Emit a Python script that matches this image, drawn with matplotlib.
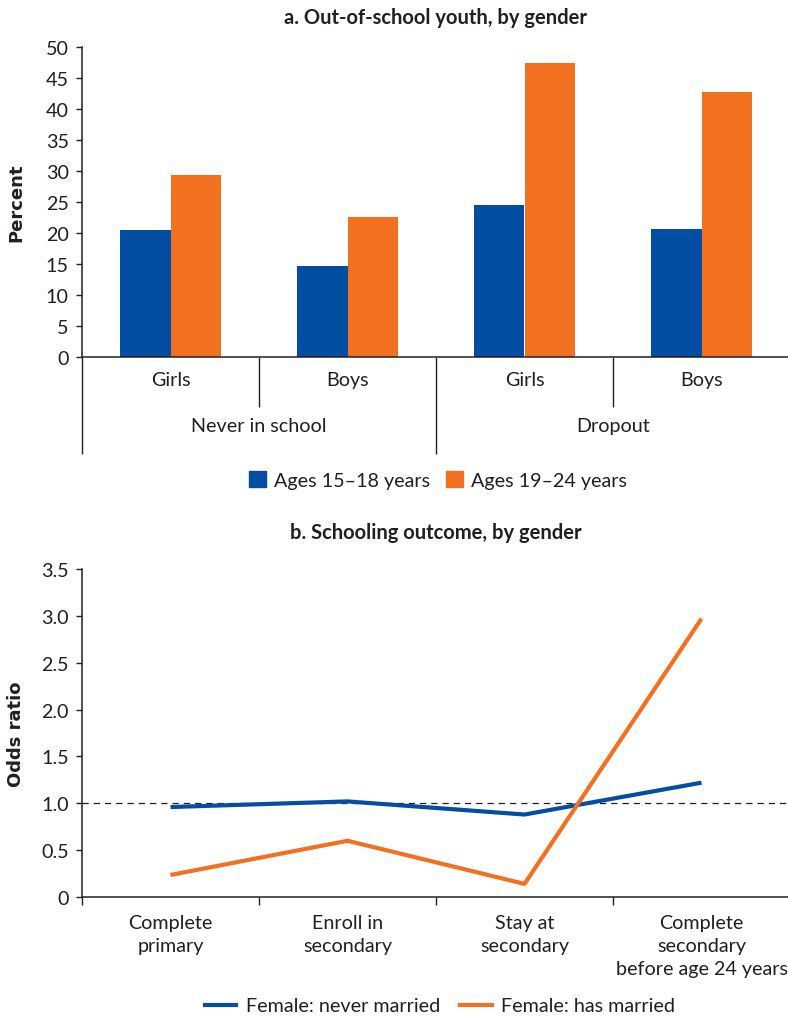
import matplotlib
matplotlib.use("Agg")
import matplotlib.pyplot as plt
from matplotlib.patches import Patch
from matplotlib.lines import Line2D

plt.rcParams["font.family"] = ["Lato", "DejaVu Sans"]

# ---- data -------------------------------------------------------------
genders = ["Girls", "Boys", "Girls", "Boys"]
groups = ["Never in school", "Dropout"]
ages_15_18 = [20.5, 14.7, 24.5, 20.7]
ages_19_24 = [29.3, 22.6, 47.4, 42.7]
bar_series = ["Ages 15\u201318 years", "Ages 19\u201324 years"]

outcomes = ["Complete\nprimary", "Enroll in\nsecondary", "Stay at\nsecondary",
            "Complete\nsecondary\nbefore age 24 years"]
never_married = [0.96, 1.02, 0.88, 1.22]
has_married = [0.235, 0.60, 0.14, 2.97]
line_series = ["Female: never married", "Female: has married"]

BLUE = "#034ea2"
ORANGE = "#f37021"
INK = "#231f20"
FS = 14.2

W, H = 788, 1020
fig = plt.figure(figsize=(W / 100, H / 100), dpi=100)


def box(left, top, right, bottom):
    return [left / W, 1 - bottom / H, (right - left) / W, (bottom - top) / H]


def style_axes(ax):
    for s in ("top", "right"):
        ax.spines[s].set_visible(False)
    for s in ("left", "bottom"):
        ax.spines[s].set_color(INK)
        ax.spines[s].set_linewidth(1.1)
    ax.tick_params(axis="y", direction="out", length=4.5, width=1.0,
                   color=INK, labelcolor=INK, labelsize=FS, pad=5)


AX_W = 790 - 82
YLAB_X = (25 - 82) / AX_W

# ---- panel a: bars ----------------------------------------------------
ax1 = fig.add_axes(box(82, 48, 790, 358))
style_axes(ax1)
x = list(range(len(genders)))
bw = 0.285
ax1.bar([i - bw / 2 for i in x], ages_15_18, width=bw, color=BLUE,
        label=bar_series[0])
ax1.bar([i + bw / 2 for i in x], ages_19_24, width=bw, color=ORANGE,
        label=bar_series[1])
ax1.set_xlim(-0.5, 3.5)
ax1.set_ylim(0, 50)
ax1.set_yticks(range(0, 51, 5))
ax1.set_xticks(x, genders)
ax1.tick_params(axis="x", length=0, labelsize=FS, labelcolor=INK, pad=10)
ax1.set_ylabel("Percent", fontsize=13, fontweight="bold", color=INK,
               family=["DejaVu Sans"])
ax1.yaxis.set_label_coords(YLAB_X, 0.5)
ax1.set_title("a. Out-of-school youth, by gender", fontsize=14.5,
              fontweight="bold", color=INK, pad=17)

# separators between categories and group labels under the axis
tr = ax1.get_xaxis_transform()
ax_h = 358 - 48
short = -(408 - 358) / ax_h
long_ = -(455 - 358) / ax_h
for b, depth in zip([-0.5, 0.5, 1.5, 2.5], [long_, short, long_, short]):
    ax1.plot([b, b], [0, depth], transform=tr, color=INK, lw=1.0,
             clip_on=False, solid_capstyle="butt")
for gi, g in enumerate(groups):
    ax1.text(0.5 + 2 * gi, -(427 - 358) / ax_h, g, transform=tr,
             ha="center", va="center", fontsize=FS, color=INK)

fig.legend(handles=[Patch(color=BLUE, label=bar_series[0]),
                    Patch(color=ORANGE, label=bar_series[1])],
           loc="center", bbox_to_anchor=(438 / W, 1 - 481 / H),
           ncol=2, frameon=False, fontsize=FS, handlelength=0.85,
           handleheight=0.85, handletextpad=0.4, columnspacing=0.8,
           labelcolor=INK)

# ---- panel b: lines ---------------------------------------------------
ax2 = fig.add_axes(box(82, 570, 790, 898))
style_axes(ax2)
ax2.axhline(1.0, color=INK, lw=0.9, ls=(0, (5, 4)), zorder=1)
ax2.plot(x, never_married, color=BLUE, lw=3, label=line_series[0], zorder=3,
         solid_capstyle="butt")
ax2.plot(x, has_married, color=ORANGE, lw=3, label=line_series[1], zorder=3,
         solid_capstyle="butt")
ax2.set_xlim(-0.5, 3.5)
ax2.set_ylim(0, 3.5)
yt = [0, 0.5, 1.0, 1.5, 2.0, 2.5, 3.0, 3.5]
ax2.set_yticks(yt, ["0"] + [f"{v:.1f}" for v in yt[1:]])
ax2.set_xticks(x, outcomes)
ax2.set_xticks([-0.5, 0.5, 1.5, 2.5], minor=True)
ax2.tick_params(axis="x", which="major", length=0, labelsize=FS,
                labelcolor=INK, pad=12)
ax2.tick_params(axis="x", which="minor", direction="out", length=6,
                width=1.0, color=INK)
for lbl in ax2.get_xticklabels():
    lbl.set_linespacing(1.45)
ax2.set_ylabel("Odds ratio", fontsize=13, fontweight="bold", color=INK,
               family=["DejaVu Sans"])
ax2.yaxis.set_label_coords(YLAB_X, 0.5)
ax2.set_title("b. Schooling outcome, by gender", fontsize=14.5,
              fontweight="bold", color=INK, pad=22)

fig.legend(handles=[Line2D([], [], color=BLUE, lw=3, label=line_series[0]),
                    Line2D([], [], color=ORANGE, lw=3, label=line_series[1])],
           loc="center", bbox_to_anchor=(440 / W, 1 - 1007 / H), ncol=2,
           frameon=False, fontsize=FS, handlelength=1.6, handletextpad=0.5,
           columnspacing=1.0, labelcolor=INK)

fig.savefig("out.png", dpi=100)
